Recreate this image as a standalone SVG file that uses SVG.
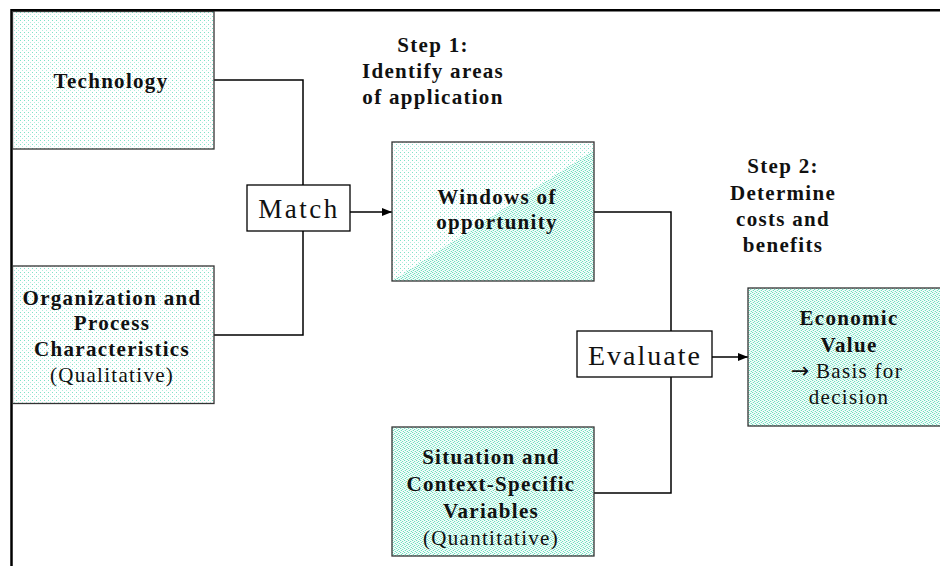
<svg xmlns="http://www.w3.org/2000/svg" width="940" height="566" viewBox="0 0 940 566">
<defs>
<pattern id="sparse" width="4" height="4" patternUnits="userSpaceOnUse">
<rect width="4" height="4" fill="#ffffff"/>
<rect x="0" y="0" width="1" height="1" fill="#7fe2c8" shape-rendering="crispEdges"/>
<rect x="2" y="2" width="1" height="1" fill="#b4eedf" shape-rendering="crispEdges"/>
</pattern>
<pattern id="dense" width="4" height="4" patternUnits="userSpaceOnUse">
<rect width="4" height="4" fill="#f6fdfb"/>
<rect x="0" y="0" width="1" height="1" fill="#6fdec0" shape-rendering="crispEdges"/>
<rect x="1" y="0" width="1" height="1" fill="#d2f5ec" shape-rendering="crispEdges"/>
<rect x="2" y="1" width="1" height="1" fill="#6fdec0" shape-rendering="crispEdges"/>
<rect x="3" y="1" width="1" height="1" fill="#d2f5ec" shape-rendering="crispEdges"/>
<rect x="1" y="2" width="1" height="1" fill="#6fdec0" shape-rendering="crispEdges"/>
<rect x="0" y="2" width="1" height="1" fill="#d2f5ec" shape-rendering="crispEdges"/>
<rect x="3" y="3" width="1" height="1" fill="#6fdec0" shape-rendering="crispEdges"/>
<rect x="2" y="3" width="1" height="1" fill="#d2f5ec" shape-rendering="crispEdges"/>
</pattern>
<marker id="arrow" markerWidth="10" markerHeight="8" refX="10" refY="4" orient="auto" markerUnits="userSpaceOnUse">
<path d="M0,0 L10,4 L0,8 Z" fill="#000"/>
</marker>
</defs>
<style>
.box{stroke:#333;stroke-width:1.3}
.op{fill:#fff;stroke:#000;stroke-width:1.3}
.conn{fill:none;stroke:#000;stroke-width:1.5}
.b{font-family:"Liberation Serif","Times New Roman",serif;font-weight:bold;font-size:21px;letter-spacing:1.3px;fill:#111;text-anchor:middle}
.r{font-family:"Liberation Serif","Times New Roman",serif;font-size:21px;letter-spacing:1.3px;fill:#111;text-anchor:middle}
.big{font-family:"Liberation Serif","Times New Roman",serif;font-size:28px;letter-spacing:2px;fill:#111;text-anchor:middle}
.arr{font-family:"DejaVu Sans",sans-serif;font-size:22px;letter-spacing:0}
</style>
<rect width="940" height="566" fill="#fff"/>

<g id="frame">
<line x1="11.5" y1="10.3" x2="940" y2="10.3" stroke="#000" stroke-width="2.5"/>
<line x1="11.5" y1="9" x2="11.5" y2="566" stroke="#000" stroke-width="2.5"/>
</g>

<g id="connectors">
<polyline class="conn" points="214,80 303,80 303,185"/>
<polyline class="conn" points="214,335 303,335 303,231"/>
<line class="conn" x1="350" y1="212" x2="392" y2="212" marker-end="url(#arrow)"/>
<polyline class="conn" points="594,212 671,212 671,331"/>
<polyline class="conn" points="594,493 671,493 671,377"/>
<line class="conn" x1="712" y1="357" x2="748" y2="357" marker-end="url(#arrow)"/>
</g>

<g id="technology">
<rect class="box" x="12.5" y="11.5" width="201.5" height="137.5" fill="url(#sparse)"/>
<text class="b" x="111" y="88">Technology</text>
</g>

<g id="organization">
<rect class="box" x="12.5" y="266" width="201.5" height="137.5" fill="url(#sparse)"/>
<text class="b" x="112" y="305">Organization and</text>
<text class="b" x="112" y="330">Process</text>
<text class="b" x="112" y="356">Characteristics</text>
<text class="r" x="112" y="382">(Qualitative)</text>
</g>

<g id="match">
<rect class="op" x="247" y="185" width="103" height="46"/>
<text class="big" x="299" y="218" style="font-size:27px;letter-spacing:2.5px">Match</text>
</g>

<g id="step1">
<text class="b" x="433" y="52">Step 1:</text>
<text class="b" x="433" y="78">Identify areas</text>
<text class="b" x="433" y="104">of application</text>
</g>

<g id="windows">
<rect x="392" y="142" width="202" height="139" fill="url(#sparse)"/>
<polygon points="392,281 594,150 594,281" fill="url(#dense)"/>
<rect class="box" x="392" y="142" width="202" height="139" fill="none"/>
<text class="b" x="497" y="204">Windows of</text>
<text class="b" x="497" y="229">opportunity</text>
</g>

<g id="step2">
<text class="b" x="783" y="173">Step 2:</text>
<text class="b" x="783" y="200">Determine</text>
<text class="b" x="783" y="226">costs and</text>
<text class="b" x="783" y="252">benefits</text>
</g>

<g id="evaluate">
<rect class="op" x="577" y="331" width="135" height="46"/>
<text class="big" x="645" y="365">Evaluate</text>
</g>

<g id="economic">
<rect class="box" x="748" y="288" width="195" height="138" fill="url(#dense)"/>
<text class="b" x="849" y="325">Economic</text>
<text class="b" x="849" y="352">Value</text>
<text class="r" x="847" y="378"><tspan class="arr">→</tspan> Basis for</text>
<text class="r" x="849" y="404">decision</text>
</g>

<g id="situation">
<rect class="box" x="392" y="427" width="202" height="129" fill="url(#dense)"/>
<text class="b" x="491" y="464">Situation and</text>
<text class="b" x="491" y="491">Context-Specific</text>
<text class="b" x="491" y="518">Variables</text>
<text class="r" x="491" y="545">(Quantitative)</text>
</g>
</svg>
